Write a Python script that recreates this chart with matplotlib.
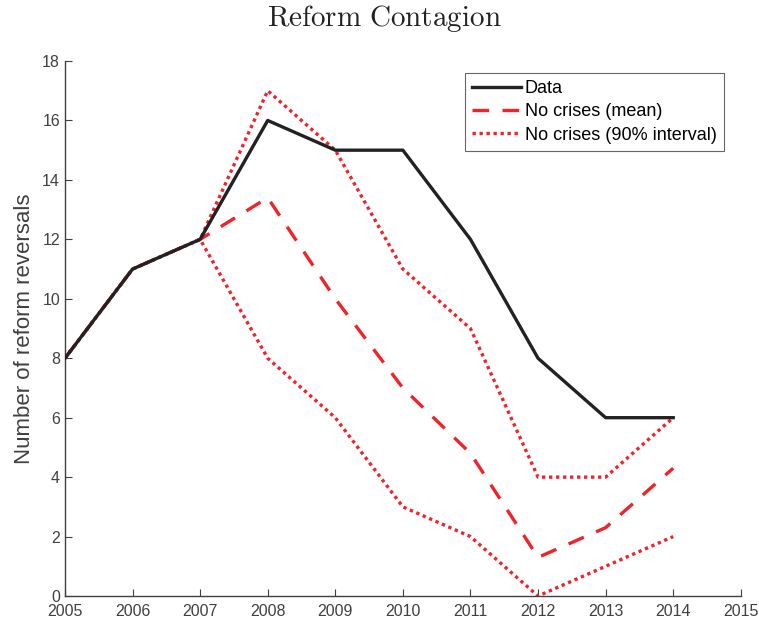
import matplotlib
matplotlib.use("Agg")
import matplotlib.pyplot as plt

years = [2005, 2006, 2007, 2008, 2009, 2010, 2011, 2012, 2013, 2014]
data = [8, 11, 12, 16, 15, 15, 12, 8, 6, 6]
mean_nocrisis = [8, 11, 12, 13.4, 10, 7, 4.8, 1.3, 2.3, 4.3]
upper_nocrisis = [8, 11, 12, 17, 15, 11, 9, 4, 4, 6]
lower_nocrisis = [8, 11, 12, 8, 6, 3, 2, 0, 1, 2]

plt.rcParams['font.family'] = ['Liberation Sans', 'DejaVu Sans']
plt.rcParams['mathtext.fontset'] = 'cm'

red = '#f0222a'
grey = '#404040'

fig = plt.figure(figsize=(7.59, 6.27), dpi=100)
ax = fig.add_axes([0.0856, 0.0494, 0.8904, 0.8533])

ax.plot(years, data, color='#222222', lw=2.4, label='Data', zorder=3)
ax.plot(years, mean_nocrisis, color=red, lw=2.4, ls=(0, (5, 4)), label='No crises (mean)')
ax.plot(years, upper_nocrisis, color=red, lw=2.4, ls=(0, (1, 1.1)), label='No crises (90% interval)')
ax.plot(years, lower_nocrisis, color=red, lw=2.4, ls=(0, (1, 1.1)))

ax.set_xlim(2005, 2015)
ax.set_ylim(0, 18)
ax.set_xticks(range(2005, 2016))
ax.set_yticks(range(0, 19, 2))
ax.spines['top'].set_visible(False)
ax.spines['right'].set_visible(False)
for s in ['left', 'bottom']:
    ax.spines[s].set_color(grey)
    ax.spines[s].set_linewidth(1.0)
ax.tick_params(direction='in', length=5, colors=grey, labelsize=11.5)
ax.tick_params(axis='x', pad=6)
ax.set_ylabel('Number of reform reversals', fontsize=16, color=grey, labelpad=5)
fig.text(0.507, 0.971, r'$\mathrm{Reform\ Contagion}$', fontsize=21,
         ha='center', va='center', color='#222222')

leg = ax.legend(loc='upper right', bbox_to_anchor=(0.975, 0.978), fontsize=13,
                frameon=True, fancybox=False, handlelength=2.7, handletextpad=0.2,
                borderpad=0.4, labelspacing=0.35, borderaxespad=0)
leg.get_frame().set_edgecolor(grey)
leg.get_frame().set_linewidth(0.8)

fig.savefig('out.png', dpi=100)
